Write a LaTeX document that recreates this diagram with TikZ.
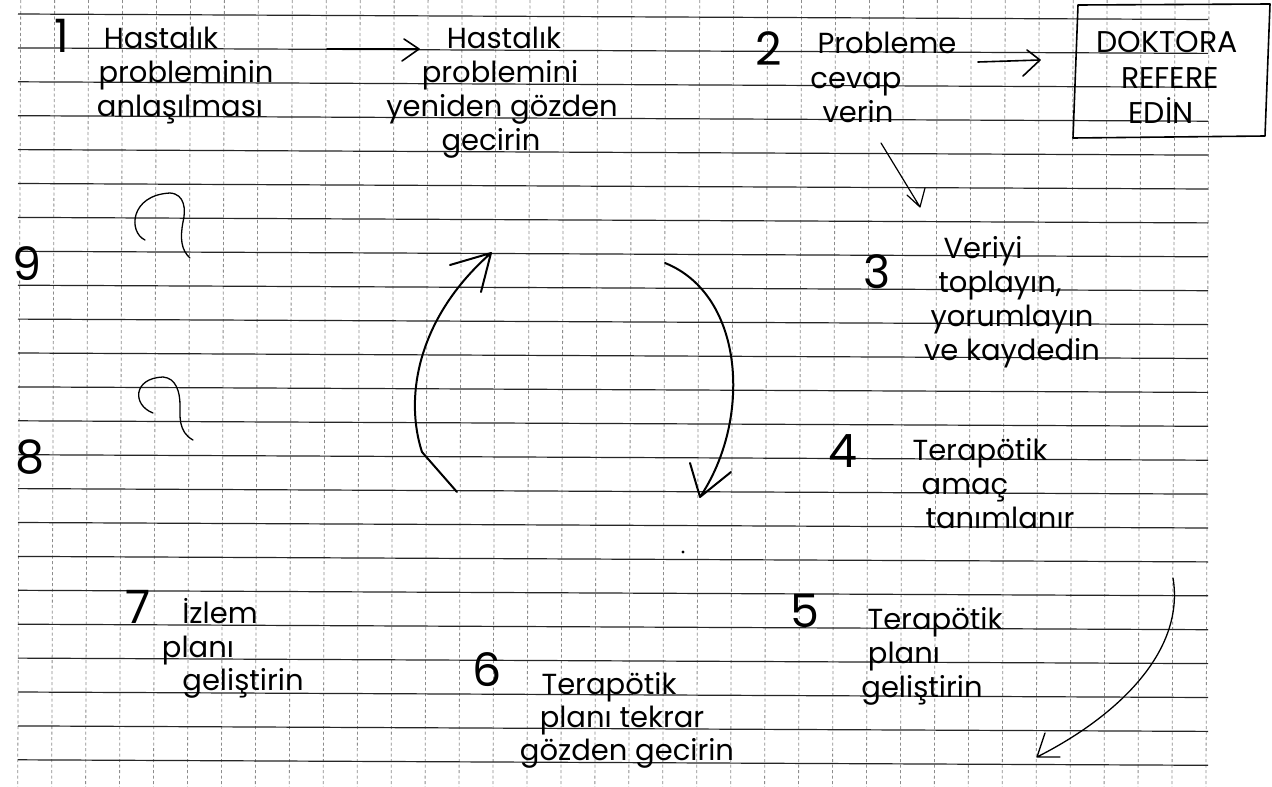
\documentclass[tikz,border=0pt]{standalone}
\usepackage{fontspec}
\setmainfont{Poppins}
\begin{document}
\begin{tikzpicture}[x=1pt,y=-1pt,
  hline/.style={black!85, line width=1.2pt},
  vline/.style={black!45, line width=0.8pt, dash pattern=on 3pt off 2.5pt},
  txt/.style={anchor=base, inner sep=0pt, font=\fontsize{29}{34}\selectfont},
  captxt/.style={anchor=base, inner sep=0pt, font=\fontsize{30}{34}\selectfont},
  num/.style={anchor=base, inner sep=0pt, font=\fontsize{46}{50}\selectfont},
  pen/.style={line width=1.6pt, line cap=round, line join=round},
]
\useasboundingbox[fill=white] (0,0) rectangle (1272,787);
% grid paper
\foreach \j in {0,...,35} { \draw[vline] ({20.7+33.95*\j},0) -- ({17.7+33.95*\j},787); }
\foreach \k in {0,...,22} { \draw[hline] (18,{14+33.9*\k}) -- (1208,{19.5+33.9*\k}); }

% block 1
\node[num] (n1) at (62,52) {1};
\node[txt] (t1a) at (161,48) {Hastalık};
\node[txt] (t1b) at (186,82) {probleminin};
\node[txt] (t1c) at (180,116) {anlaşılması};
% block 1b
\node[txt] (t2a) at (504,48) {Hastalık};
\node[txt] (t2b) at (500,82) {problemini};
\node[txt] (t2c) at (502,116) {yeniden gözden};
\node[txt] (t2d) at (491,150) {gecirin};
% block 2
\node[num] (n2) at (769,65) {2};
\node[txt] (t3a) at (887,53) {Probleme};
\node[txt] (t3b) at (856,88) {cevap};
\node[txt] (t3c) at (858,122) {verin};
% box
\draw[pen] (1078,5) -- (1270,4) -- (1265,136) -- (1073,138) -- cycle;
\node[captxt] (b1) at (1167,52) {DOKTORA};
\node[captxt] (b2) at (1170,88) {REFERE};
\node[captxt] (b3) at (1161,123) {EDİN};
% block 3
\node[num] (n3) at (877,288) {3};
\node[txt] (t4a) at (983,258) {Veriyi};
\node[txt] (t4b) at (1000,292) {toplayın,};
\node[txt] (t4c) at (1012,326) {yorumlayın};
\node[txt] (t4d) at (1012,360) {ve kaydedin};
% block 4
\node[num] (n4) at (843,467) {4};
\node[txt] (t5a) at (980,460) {Terapötik};
\node[txt] (t5b) at (965,494) {amaç};
\node[txt] (t5c) at (1000,528) {tanımlanır};
% block 5
\node[num] (n5) at (805,627) {5};
\node[txt] (t6a) at (935,629) {Terapötik};
\node[txt] (t6b) at (904,663) {planı};
\node[txt] (t6c) at (922,697) {geliştirin};
% block 6
\node[num] (n6) at (487,686) {6};
\node[txt] (t7a) at (609,694) {Terapötik};
\node[txt] (t7b) at (622,727) {planı tekrar};
\node[txt] (t7c) at (627,760) {gözden gecirin};
% block 7
\node[num] (n7) at (138,623) {7};
\node[txt] (t8a) at (220,623) {İzlem};
\node[txt] (t8b) at (198,657) {planı};
\node[txt] (t8c) at (243,690) {geliştirin};
% 8 and 9
\node[num] (n8) at (30,473) {8};
\node[num] (n9) at (27,280) {9};

% question-mark hooks
\draw[pen, line width=1.3pt] (145,240) .. controls (128,232) and (130,195) .. (170,193)
  .. controls (185,194) and (186,210) .. (183,222) .. controls (180,238) and (181,250) .. (190,258);
\draw[pen, line width=1.3pt] (153,413) .. controls (132,405) and (133,378) .. (163,377)
  .. controls (176,378) and (180,392) .. (180,405) .. controls (180,415) and (178,432) .. (193,440);

% coordinates for connectors
\coordinate (a1s) at (327,49);  \coordinate (a1e) at (419,49);
\coordinate (a2s) at (978,62);  \coordinate (a2e) at (1040,60);
\coordinate (a3s) at (881,143); \coordinate (a3e) at (920,207);
\coordinate (cLs) at (457,492); \coordinate (cLe) at (491,253);
\coordinate (cRs) at (665,263); \coordinate (cRe) at (700,497);
\coordinate (a5s) at (1173,578); \coordinate (a5e) at (1037,757);

% arrows
\draw[pen] (a1s) -- (a1e) (404,39) -- (a1e) -- (402,61);
\draw[pen] (a2s) -- (a2e) (1027,50) -- (a2e) -- (1023,76);
\draw[pen, line width=1.2pt] (a3s) -- (a3e) (907,195) -- (a3e) -- (925,188);
\draw[pen, line width=2pt] (cLs) -- (422,452) .. controls (405,400) and (415,320) .. (cLe)
  (450,265) -- (cLe) -- (481,292);
\draw[pen, line width=2pt] (cRs) .. controls (745,295) and (752,420) .. (cRe)
  (690,463) -- (cRe) -- (731,472);
\draw[pen, line width=1.3pt] (a5s) .. controls (1185,650) and (1120,715) .. (a5e)
  (1045,733) -- (a5e) -- (1060,757);
% stray dot
\fill (683,552) circle (1.6);
\end{tikzpicture}
\end{document}
